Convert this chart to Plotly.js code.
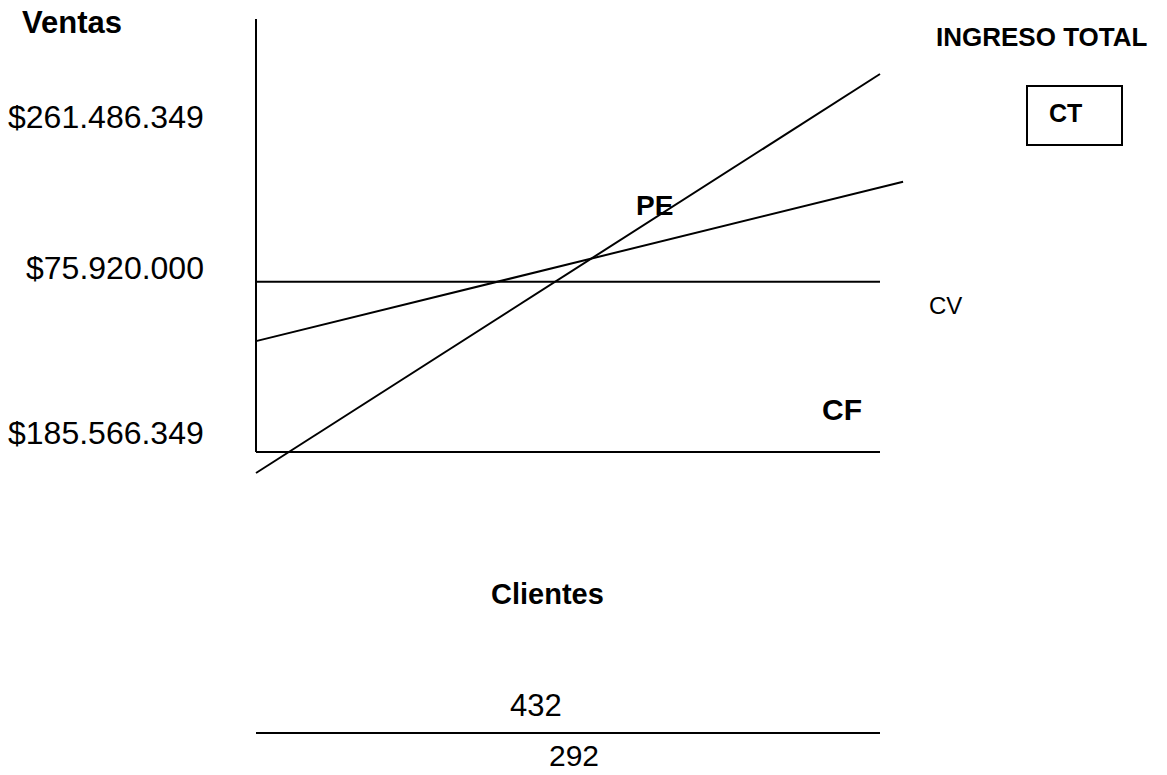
<!DOCTYPE html>
<html>
<head>
<meta charset="utf-8">
<script src="https://cdn.plot.ly/plotly-3.0.1.min.js"></script>
<style>html,body{margin:0;padding:0;background:#fff;}#chart{width:1167px;height:775px;}</style>
</head>
<body>
<div id="chart"></div>
<script>
// ---- data (schematic units: x = clientes 0..100, y = ventas 0..100) ----
const axisX = [0, 0];
const axisY = [0, 100];
const cfX = [0, 100];
const cfY = [0, 0];
const cvX = [0, 100];
const cvY = [39.3, 39.3];
const ctX = [0, 103.7];
const ctY = [25.6, 62.4];
const itX = [0, 100];
const itY = [-4.85, 87.3];
const fracX = [0, 100];
const fracY = [-64.9, -64.9];

const salesLabels = ['$261.486.349', '$75.920.000', '$185.566.349'];
const numerator = '432';
const denominator = '292';
const seriesLabels = ['INGRESO TOTAL', 'CT', 'PE', 'CV', 'CF'];
const axisTitles = ['Ventas', 'Clientes'];

const W = 1167, H = 775;
const px = v => v / W;
const py = v => 1 - v / H;
const FONT = 'Liberation Sans, Arial, sans-serif';

const lineStyle = {color: '#000', width: 2};
const mk = (x, y) => ({x, y, mode: 'lines', type: 'scatter', line: lineStyle, hoverinfo: 'skip', cliponaxis: false});

const traces = [
  mk(axisX, axisY),
  mk(cfX, cfY),
  mk(cvX, cvY),
  mk(ctX, ctY),
  mk(itX, itY),
  mk(fracX, fracY)
];

function ann(text, x, y, size, bold, xanchor) {
  return {
    text: bold ? '<b>' + text + '</b>' : text,
    xref: 'paper', yref: 'paper', x: px(x), y: py(y),
    xanchor: xanchor || 'center', yanchor: 'middle',
    showarrow: false, font: {family: FONT, size: size, color: '#000'}
  };
}

const annotations = [
  ann(axisTitles[0], 20, 22, 31, true, 'left'),
  ann(salesLabels[0], 206, 117, 32, false, 'right'),
  ann(salesLabels[1], 206, 268, 32, false, 'right'),
  ann(salesLabels[2], 206, 433, 32, false, 'right'),
  ann(seriesLabels[0], 1041, 37, 26, true),
  ann(seriesLabels[1], 1065, 113, 25, true),
  ann(seriesLabels[2], 654, 205, 28, true),
  ann(seriesLabels[3], 945, 305, 24, false),
  ann(seriesLabels[4], 842, 409, 30, true),
  ann(axisTitles[1], 547, 594, 29, true),
  ann(numerator, 536, 705, 31, false),
  ann(denominator, 574, 755, 30, false)
];

// x: 0 -> 256px, 100 -> 880px ; y: 0 -> 452px, 100 -> 19px
const sx = (880 - 256) / 100, sy = (452 - 19) / 100;
const layout = {
  width: W, height: H,
  margin: {l: 0, r: 0, t: 0, b: 0, pad: 0},
  paper_bgcolor: '#fff', plot_bgcolor: '#fff',
  showlegend: false, hovermode: false,
  xaxis: {range: [-256 / sx, (W - 256) / sx], visible: false, fixedrange: true},
  yaxis: {range: [-(H - 452) / sy, 452 / sy], visible: false, fixedrange: true},
  annotations: annotations,
  shapes: [{
    type: 'rect', xref: 'paper', yref: 'paper',
    x0: px(1027), x1: px(1122), y0: py(145), y1: py(86),
    line: {color: '#000', width: 2}, fillcolor: 'rgba(0,0,0,0)'
  }]
};

Plotly.newPlot('chart', traces, layout, {staticPlot: true, displayModeBar: false});
</script>
</body>
</html>
